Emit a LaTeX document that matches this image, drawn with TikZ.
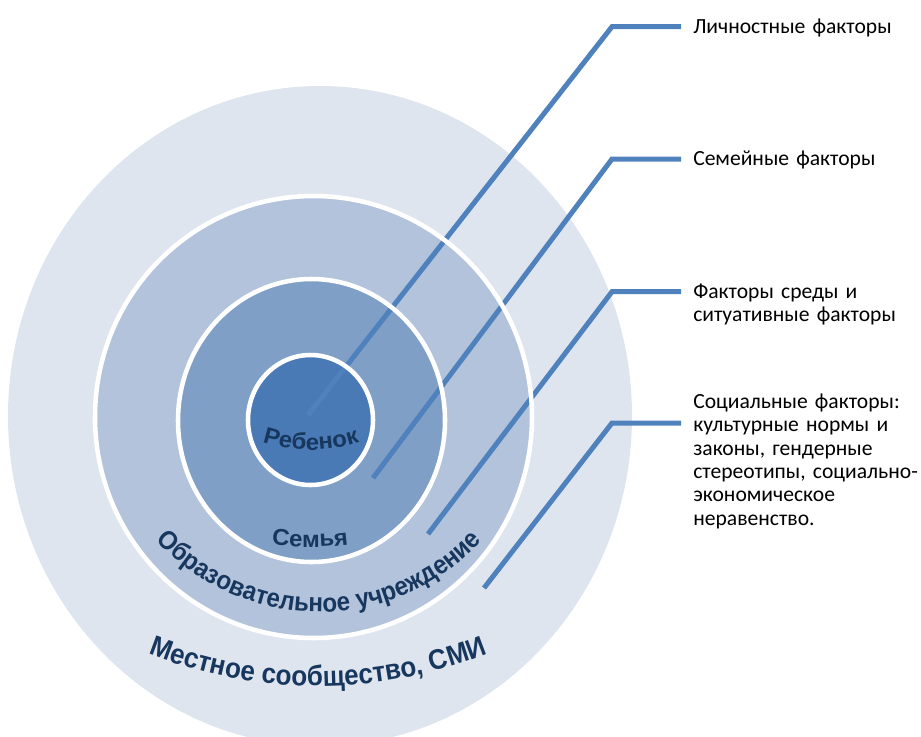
\documentclass[tikz,border=0pt]{standalone}
\usepackage{fontspec}
\setmainfont{Carlito}
\newfontfamily\arcfont[FakeStretch=0.92]{Liberation Sans}
\newfontfamily\widefont[FakeStretch=1.04]{Liberation Sans}
\usetikzlibrary{decorations.text}
\definecolor{ringA}{HTML}{DFE5EF}
\definecolor{ringB}{HTML}{B3C3DC}
\definecolor{ringC}{HTML}{809FC7}
\definecolor{ringD}{HTML}{4A7AB6}
\definecolor{linkblue}{HTML}{4F81BD}
\definecolor{navy}{HTML}{17375E}
\tikzset{
  conn/.style={draw=linkblue, line width=3.75pt},
  rim/.style={draw=white, line width=3.4pt},
  factor/.style={anchor=base west, inner sep=0pt, align=left, text width=230pt,
    font=\fontsize{16.2}{17.55}\selectfont, text=black},
  arclabel/.style={decorate, decoration={text along path, text align=center, text color=navy, text={#1}}}
}
\begin{document}
\begin{tikzpicture}[x=0.75pt,y=0.75pt]
\useasboundingbox (0,0) rectangle (921,-736);
\clip (0,0) rectangle (921,-736);
% fills
\fill[ringA] (320,-416) ellipse [x radius=312, y radius=330];
\fill[ringB] (313.5,-417) ellipse [x radius=218.5, y radius=221];
\fill[ringC] (311.5,-420.5) ellipse [x radius=133.5, y radius=141.5];
\fill[ringD] (310.5,-420) ellipse [x radius=62.5, y radius=65];
% connector coordinates
\coordinate (s1) at (308,-415);
\coordinate (b1) at (612,-26.7);
\coordinate (e1) at (681,-26.7);
\coordinate (s2) at (373,-478);
\coordinate (b2) at (612,-159);
\coordinate (e2) at (681,-159);
\coordinate (s3) at (428,-534);
\coordinate (b3) at (612,-291.7);
\coordinate (e3) at (681,-291.7);
\coordinate (s4) at (484,-588);
\coordinate (b4) at (612,-423);
\coordinate (e4) at (681,-423);
\draw[conn] (s1) -- (b1) -- (e1);
\draw[conn] (s2) -- (b2) -- (e2);
\draw[conn] (s3) -- (b3) -- (e3);
\draw[conn] (s4) -- (b4) -- (e4);
% white rims
\draw[rim] (313.5,-417) ellipse [x radius=218.5, y radius=221];
\draw[rim] (311.5,-420.5) ellipse [x radius=133.5, y radius=141.5];
\draw[rim] (310.5,-420) ellipse [x radius=62.5, y radius=65];
% curved labels
\path[arclabel={|\widefont\bfseries\fontsize{17.3}{17.3}\selectfont|Ребенок}]
  (311,-292) ++(230:158) arc[start angle=230, end angle=310, radius=158];
\path[arclabel={|\widefont\bfseries\fontsize{17.3}{17.3}\selectfont|Семья}]
  (310,-247) ++(255:300) arc[start angle=255, end angle=285, radius=300];
\path[arclabel={|\arcfont\bfseries\fontsize{19.7}{19.7}\selectfont|Образовательное учреждение}]
  (319,-390) ++(200:222) arc[start angle=200, end angle=340, radius=222];
\path[arclabel={|\arcfont\bfseries\fontsize{21.2}{21.2}\selectfont|Местное сообщество, СМИ}]
  (318,-224) ++(235:462) arc[start angle=235, end angle=305, radius=462];
% factor labels
\node[factor] (f1) at (693,-33.3) {Личностные факторы};
\node[factor] (f2) at (693,-165.7) {Семейные факторы};
\node[factor] (f3) at (693,-298.3) {Факторы среды и\\ситуативные факторы};
\node[factor] (f4) at (693,-408.3) {Социальные факторы:\\культурные нормы и\\законы, гендерные\\стереотипы, социально-\\экономическое\\неравенство.};
\end{tikzpicture}
\end{document}
